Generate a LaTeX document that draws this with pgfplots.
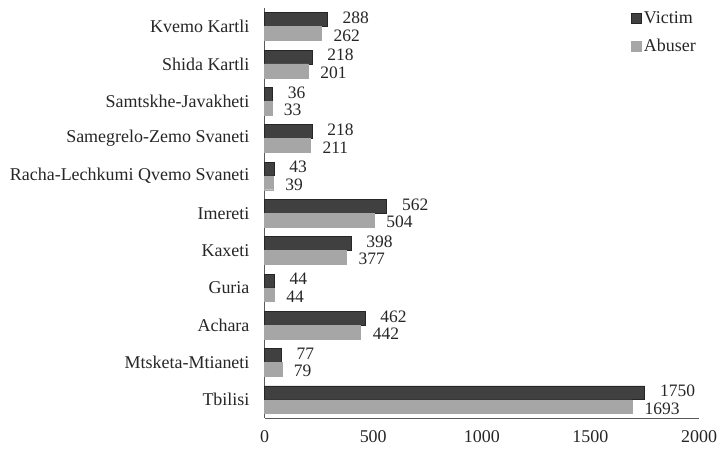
\documentclass[border=0pt]{standalone}
\usepackage{pgfplots}
\pgfplotsset{compat=1.18}
\usepackage{fontspec}
\setmainfont{Liberation Serif}
\definecolor{victim}{HTML}{404040}
\definecolor{victimedge}{HTML}{262626}
\definecolor{abuser}{HTML}{A6A6A6}
\definecolor{txt}{HTML}{262626}
\definecolor{axln}{HTML}{595959}
\begin{document}
\fontsize{18bp}{20bp}\selectfont
\begin{tikzpicture}
\begin{axis}[
  scale only axis,
  width=435bp, height=411bp,
  xbar,
  y dir=reverse,
  xmin=0, xmax=2000,
  ymin=-0.5, ymax=10.5,
  xtick={0,500,1000,1500,2000},
  ytick={0,...,10},
  yticklabels={Kvemo Kartli,Shida Kartli,Samtskhe-Javakheti,Samegrelo-Zemo Svaneti,Racha-Lechkumi Qvemo Svaneti,Imereti,Kaxeti,Guria,Achara,Mtsketa-Mtianeti,Tbilisi},
  axis x line*=bottom,
  axis y line*=left,
  axis line style={axln, line width=1.2bp, -},
  major tick length=0pt,
  tick style={draw=none},
  /pgf/number format/assume math mode=true,
  /pgf/number format/1000 sep={},
  ticklabel style={text=txt, font=\fontsize{18bp}{20bp}\selectfont},
  y tick label style={xshift=-9bp},
  x tick label style={yshift=-6bp},
  bar width=0.37,
  nodes near coords,
  nodes near coords style={anchor=west, xshift=15bp, text=txt, font=\fontsize{17.5bp}{18bp}\selectfont, inner sep=0pt},
  legend style={at={(1,1)}, anchor=north east, draw=none, fill=none, text=txt, font=\fontsize{18bp}{20bp}\selectfont, row sep=9bp, inner sep=1bp},
  legend cell align=left,
  legend image code/.code={\path[#1] (0bp,-5bp) rectangle (10bp,5bp);},
  clip=false,
]
\addplot[fill=victim, draw=victimedge, line width=0.8bp, bar shift=-0.185,
  every node near coord/.append style={yshift=1.8bp}] coordinates {
(288,0) (218,1) (36,2) (218,3) (43,4) (562,5) (398,6) (44,7) (462,8) (77,9) (1750,10)};
\addlegendentry{Victim}
\addplot[fill=abuser, draw=abuser, line width=0.4bp, bar shift=0.185,
  every node near coord/.append style={yshift=-1.8bp, xshift=-3bp}] coordinates {
(262,0) (201,1) (33,2) (211,3) (39,4) (504,5) (377,6) (44,7) (442,8) (79,9) (1693,10)};
\addlegendentry{Abuser}
\end{axis}
\path ([shift={(-265bp,-34bp)}]current axis.south west) rectangle ([shift={(23bp,8bp)}]current axis.north east);
\end{tikzpicture}
\end{document}
